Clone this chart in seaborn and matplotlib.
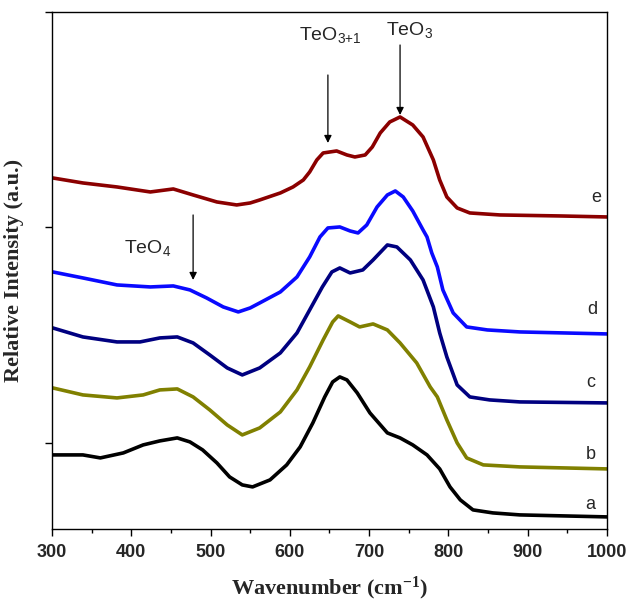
import numpy as np
import pandas as pd
import matplotlib
matplotlib.use("Agg")
import matplotlib.pyplot as plt
import seaborn as sns

# ---- data (wavenumber in cm-1, relative intensity in arbitrary offset units) ----
x_a = [301, 339, 361, 390, 415, 436, 458, 474, 490, 508, 524, 540, 553, 575, 596, 613, 629, 644, 654, 663, 672, 685, 701, 723, 739, 755, 773, 789, 802, 815, 831, 856, 890, 1000]
y_a = [-12, -12, -15, -10, -2, 2, 5, 1, -7, -20, -34, -42, -44, -37, -22, -4, 20, 46, 61, 66, 63, 50, 30, 10, 5, -2, -12, -26, -44, -57, -67, -70, -72, -74]

x_b = [301, 339, 382, 415, 436, 458, 478, 499, 521, 540, 562, 588, 609, 625, 642, 654, 661, 676, 688, 705, 723, 739, 760, 777, 786, 798, 811, 823, 844, 890, 1000]
y_b = [55, 48, 45, 48, 53, 54, 46, 33, 18, 8, 15, 31, 53, 76, 103, 121, 127, 121, 116, 119, 113, 100, 80, 56, 46, 23, 0, -15, -22, -24, -26]

x_c = [301, 339, 382, 411, 436, 458, 478, 499, 521, 540, 562, 588, 609, 625, 641, 653, 663, 676, 692, 705, 723, 735, 752, 768, 781, 789, 798, 811, 827, 852, 890, 1000]
y_c = [115, 106, 101, 101, 105, 106, 100, 88, 75, 68, 75, 90, 110, 133, 156, 171, 175, 170, 173, 183, 198, 196, 183, 163, 136, 110, 86, 58, 46, 43, 41, 40]

x_d = [301, 339, 382, 424, 453, 474, 495, 516, 535, 550, 562, 588, 609, 625, 638, 648, 663, 676, 686, 697, 710, 723, 733, 743, 755, 768, 773, 779, 786, 793, 806, 823, 849, 890, 1000]
y_d = [171, 165, 158, 156, 157, 153, 145, 136, 131, 135, 140, 151, 166, 186, 206, 215, 216, 212, 210, 218, 236, 248, 252, 246, 232, 213, 206, 190, 176, 153, 130, 116, 113, 111, 109]

x_e = [301, 339, 382, 424, 453, 478, 508, 533, 550, 562, 588, 604, 617, 625, 634, 642, 659, 672, 682, 695, 704, 714, 726, 739, 755, 768, 781, 789, 798, 811, 827, 865, 941, 1000]
y_e = [265, 260, 256, 251, 254, 248, 241, 238, 240, 243, 250, 256, 263, 271, 283, 290, 292, 288, 286, 288, 296, 310, 321, 326, 318, 306, 283, 263, 246, 235, 230, 228, 227, 226]

series_names = ["a", "b", "c", "d", "e"]
series_colors = ["#000000", "#808000", "#000080", "#0A0AFF", "#8B0000"]
x_ticks = [300, 400, 500, 600, 700, 800, 900, 1000]
y_ticks = [0, 216, 431]

ann_labels = ["TeO$_4$", "TeO$_{3{+}1}$", "TeO$_3$"]

frames = []
for name, xs, ys in zip(series_names, [x_a, x_b, x_c, x_d, x_e], [y_a, y_b, y_c, y_d, y_e]):
    frames.append(pd.DataFrame({"Wavenumber": xs, "Intensity": ys, "sample": name}))
df = pd.concat(frames, ignore_index=True)

sns.set_style("ticks")
plt.rcParams["font.family"] = ["Liberation Sans", "DejaVu Sans"]
plt.rcParams["mathtext.default"] = "regular"

fig = plt.figure(figsize=(6.3, 6.15), dpi=100)
ax = fig.add_axes([0.0825, 0.140, 0.881, 0.8405])

sns.lineplot(data=df, x="Wavenumber", y="Intensity", hue="sample",
             palette=dict(zip(series_names, series_colors)),
             estimator=None, sort=False, lw=2.6, legend=False, ax=ax)
for ln in ax.get_lines():
    ln.set_solid_joinstyle("round")
    ln.set_solid_capstyle("round")

ax.set_xlim(300, 1000)
ax.set_ylim(-86, 431)
ax.set_xticks(x_ticks)
ax.set_xticks(np.arange(350, 1000, 100), minor=True)
ax.set_xticklabels([str(t) for t in x_ticks], fontsize=13, fontweight="bold")
ax.set_yticks(y_ticks)
ax.set_yticklabels([])
ax.tick_params(axis="both", which="major", direction="out", length=5, width=1, color="black")
ax.tick_params(axis="x", which="minor", direction="out", length=3, width=1, color="black")
ax.tick_params(axis="x", pad=6)
for sp in ax.spines.values():
    sp.set_visible(True)
    sp.set_color("black")
    sp.set_linewidth(1)

ax.set_xlabel("Wavenumber (cm$^{-1}$)", family="Liberation Serif", fontweight="bold", fontsize=16, labelpad=10)
ax.set_ylabel("Relative Intensity (a.u.)", family="Liberation Serif", fontweight="bold", fontsize=16, labelpad=12)

# sample labels
label_pos = {"e": (987, 245), "d": (981, 133), "c": (980, 60), "b": (980, -12), "a": (979, -62)}
for name, (lx, ly) in label_pos.items():
    ax.text(lx, ly, name, fontsize=13, ha="center", va="center")

# annotations with arrows
arrow_kw = dict(arrowstyle="-|>", color="black", lw=0.9, mutation_scale=11, shrinkA=0, shrinkB=0)
ax.annotate("", xy=(478, 163), xytext=(478, 228), arrowprops=arrow_kw)
ax.text(421, 195, ann_labels[0], fontsize=14, ha="center", va="center")
ax.annotate("", xy=(648, 300), xytext=(648, 368), arrowprops=arrow_kw)
ax.text(651, 408, ann_labels[1], fontsize=14, ha="center", va="center")
ax.annotate("", xy=(739, 328), xytext=(739, 398), arrowprops=arrow_kw)
ax.text(751, 413, ann_labels[2], fontsize=14, ha="center", va="center")

fig.savefig("out.png", dpi=100)
